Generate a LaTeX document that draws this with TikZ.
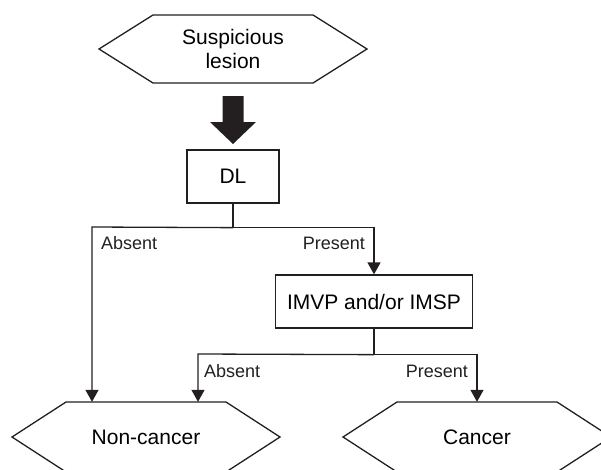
\documentclass[tikz,border=0pt]{standalone}
\usepackage{fontspec}
\setmainfont{Liberation Sans}
\usetikzlibrary{arrows.meta,calc}
\definecolor{ink}{RGB}{35,31,32}
\tikzset{
  line/.style={draw=ink, line width=1.3pt},
  arr/.style={line, -{Triangle[width=13pt,length=12pt]}},
  boxnode/.style={draw=ink, line width=1.3pt, inner sep=0pt, font=\fontsize{21}{24}\selectfont},
  hexnode/.style={inner sep=0pt, minimum width=160pt, minimum height=70pt, align=center, font=\fontsize{21}{24}\selectfont},
  lbl/.style={inner sep=0pt, font=\fontsize{18}{21}\selectfont, text=ink},
}
\newcommand{\hexdraw}[1]{\draw[line, line join=miter] (#1.center) ++(-134,0) -- ++(54,-35) -- ++(160,0) -- ++(54,35) -- ++(-54,35) -- ++(-160,0) -- cycle;}
\begin{document}
\begin{tikzpicture}[x=1pt,y=-1pt]
\useasboundingbox (0,0) rectangle (601,469);
% nodes
\node[hexnode, minimum height=68pt] (susp) at (233,49) {Suspicious\\lesion};
\draw[line, line join=miter] (susp.center) ++(-134,0) -- ++(54,-34) -- ++(160,0) -- ++(54,34) -- ++(-54,34) -- ++(-160,0) -- cycle;
\node[boxnode, minimum width=92pt, minimum height=53pt] (dl) at (233,176.5) {DL};
\node[boxnode, minimum width=197pt, minimum height=53pt] (imvp) at (374,301.5) {IMVP and/or IMSP};
\node[hexnode] (noncancer) at (146,437) {Non-cancer};
\hexdraw{noncancer}
\node[hexnode] (cancer) at (477,437) {Cancer};
\hexdraw{cancer}
% thick arrow
\fill[ink] (222.5,96) -- (243.5,96) -- (243.5,122) -- (256,122) -- (233,144) -- (210,122) -- (222.5,122) -- cycle;
% connectors
\coordinate (j1) at ($(dl.south)+(0,24)$);
\coordinate (aL) at (92,227);
\coordinate (j2) at ($(imvp.south)+(0,26)$);
\coordinate (bL) at (198,354);
\draw[line] (dl.south) -- (j1);
\draw[arr] (j1) -- (aL) -- (aL |- noncancer.north);
\draw[arr] (j1) -| (imvp.north);
\draw[line] (imvp.south) -- (j2);
\draw[arr] (j2) -- (bL) -- (bL |- noncancer.north);
\draw[arr] (j2) -| (cancer.north);
% labels
\node[lbl, anchor=west] (l1) at (101,243) {Absent};
\node[lbl, anchor=east] (l2) at (365,243) {Present};
\node[lbl, anchor=west] (l3) at (204,371) {Absent};
\node[lbl, anchor=east] (l4) at (468,371) {Present};
\end{tikzpicture}
\end{document}
